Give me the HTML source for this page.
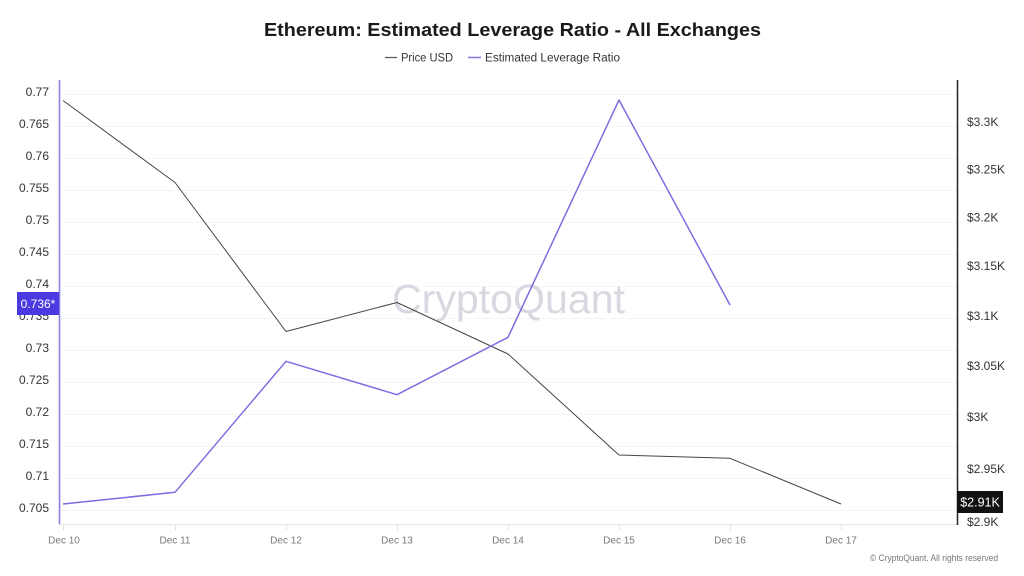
<!DOCTYPE html>
<html>
<head>
<meta charset="utf-8">
<style>
  html,body{margin:0;padding:0;background:#fff;}
  svg{display:block;font-family:"Liberation Sans",sans-serif;}
</style>
</head>
<body>
<svg width="1024" height="576" viewBox="0 0 1024 576" xmlns="http://www.w3.org/2000/svg">
  <rect width="1024" height="576" fill="#fff"/>
  <!-- Title -->
  <text x="512.5" y="36" text-anchor="middle" font-size="18" font-weight="bold" fill="#1a1a1a" textLength="497" lengthAdjust="spacingAndGlyphs">Ethereum: Estimated Leverage Ratio - All Exchanges</text>
  <!-- Legend -->
  <line x1="385" y1="57.5" x2="397" y2="57.5" stroke="#555" stroke-width="1.2"/>
  <text x="401" y="61.5" font-size="11.5" fill="#333" textLength="52" lengthAdjust="spacingAndGlyphs">Price USD</text>
  <line x1="468" y1="57.5" x2="481" y2="57.5" stroke="#8a7fe6" stroke-width="1.6"/>
  <text x="485" y="61.5" font-size="11.5" fill="#333" textLength="135" lengthAdjust="spacingAndGlyphs">Estimated Leverage Ratio</text>

  <!-- Gridlines -->
  <g stroke="#f5f5f5" stroke-width="1">
    <line x1="60" y1="94.5" x2="957" y2="94.5"/>
    <line x1="60" y1="126.5" x2="957" y2="126.5"/>
    <line x1="60" y1="158.5" x2="957" y2="158.5"/>
    <line x1="60" y1="190.5" x2="957" y2="190.5"/>
    <line x1="60" y1="222.5" x2="957" y2="222.5"/>
    <line x1="60" y1="254.5" x2="957" y2="254.5"/>
    <line x1="60" y1="286.5" x2="957" y2="286.5"/>
    <line x1="60" y1="318.5" x2="957" y2="318.5"/>
    <line x1="60" y1="350.5" x2="957" y2="350.5"/>
    <line x1="60" y1="382.5" x2="957" y2="382.5"/>
    <line x1="60" y1="414.5" x2="957" y2="414.5"/>
    <line x1="60" y1="446.5" x2="957" y2="446.5"/>
    <line x1="60" y1="478.5" x2="957" y2="478.5"/>
    <line x1="60" y1="510.5" x2="957" y2="510.5"/>
  </g>

  <!-- Watermark -->
  <text x="508.5" y="313" text-anchor="middle" font-size="41" fill="#d8d8e0" textLength="233" lengthAdjust="spacingAndGlyphs">CryptoQuant</text>

  <!-- Bottom axis -->
  <line x1="59" y1="524.5" x2="957" y2="524.5" stroke="#e4e4e4" stroke-width="1"/>
  <g stroke="#e0e0e0" stroke-width="1">
    <line x1="63.5" y1="525" x2="63.5" y2="530"/>
    <line x1="175.5" y1="525" x2="175.5" y2="530"/>
    <line x1="286.5" y1="525" x2="286.5" y2="530"/>
    <line x1="397.5" y1="525" x2="397.5" y2="530"/>
    <line x1="508.5" y1="525" x2="508.5" y2="530"/>
    <line x1="619.5" y1="525" x2="619.5" y2="530"/>
    <line x1="730.5" y1="525" x2="730.5" y2="530"/>
    <line x1="841.5" y1="525" x2="841.5" y2="530"/>
  </g>
  <g font-size="10" fill="#777" text-anchor="middle">
    <text x="64" y="543.5">Dec 10</text>
    <text x="175" y="543.5">Dec 11</text>
    <text x="286" y="543.5">Dec 12</text>
    <text x="397" y="543.5">Dec 13</text>
    <text x="508" y="543.5">Dec 14</text>
    <text x="619" y="543.5">Dec 15</text>
    <text x="730" y="543.5">Dec 16</text>
    <text x="841" y="543.5">Dec 17</text>
  </g>

  <!-- Left axis -->
  <line x1="59.5" y1="80" x2="59.5" y2="524" stroke="#8b7fe8" stroke-width="1.6"/>
  <g font-size="12" fill="#333" text-anchor="end">
    <text x="49" y="96">0.77</text>
    <text x="49" y="128">0.765</text>
    <text x="49" y="160">0.76</text>
    <text x="49" y="192">0.755</text>
    <text x="49" y="224">0.75</text>
    <text x="49" y="256">0.745</text>
    <text x="49" y="288">0.74</text>
    <text x="49" y="320">0.735</text>
    <text x="49" y="352">0.73</text>
    <text x="49" y="384">0.725</text>
    <text x="49" y="416">0.72</text>
    <text x="49" y="448">0.715</text>
    <text x="49" y="480">0.71</text>
    <text x="49" y="512">0.705</text>
  </g>

  <!-- Right axis -->
  <line x1="957.5" y1="80" x2="957.5" y2="525" stroke="#222" stroke-width="1.5"/>
  <g font-size="12" fill="#333">
    <text x="967" y="126">$3.3K</text>
    <text x="967" y="173.5">$3.25K</text>
    <text x="967" y="221.5">$3.2K</text>
    <text x="967" y="270">$3.15K</text>
    <text x="967" y="320">$3.1K</text>
    <text x="967" y="370">$3.05K</text>
    <text x="967" y="421">$3K</text>
    <text x="967" y="473">$2.95K</text>
    <text x="967" y="526">$2.9K</text>
  </g>

  <!-- Price series -->
  <polyline fill="none" stroke="#444" stroke-width="1" stroke-linejoin="round"
    points="63,100.5 175,182.5 286,331.5 397,302.5 508,354 619,455 730,458.3 841,504"/>
  <!-- Leverage series -->
  <polyline fill="none" stroke="#7b6fe0" stroke-width="1.5" stroke-linejoin="round"
    points="63,504 175,492.3 286,361.3 397,394.7 508,337.3 619,100 730,305"/>

  <!-- Badges -->
  <rect x="17" y="292" width="42" height="23" fill="#4b3ae2"/>
  <text x="38" y="308" text-anchor="middle" font-size="12" fill="#fff">0.736*</text>
  <rect x="957" y="491" width="46" height="22" fill="#121212"/>
  <text x="980" y="506.5" text-anchor="middle" font-size="12.5" fill="#fff">$2.91K</text>

  <!-- Footer -->
  <text x="998" y="561" text-anchor="end" font-size="9" fill="#777" textLength="128" lengthAdjust="spacingAndGlyphs">© CryptoQuant. All rights reserved</text>
</svg>
</body>
</html>
